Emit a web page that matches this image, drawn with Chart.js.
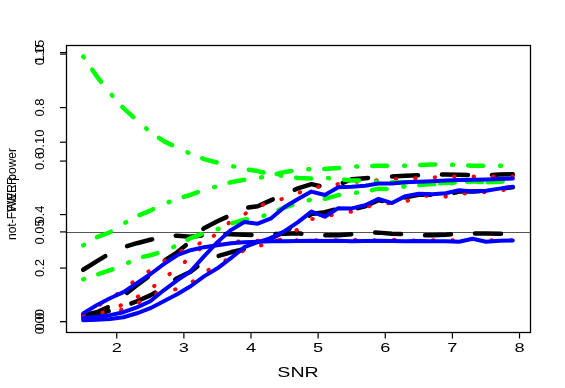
<!DOCTYPE html>
<html>
<head>
<meta charset="utf-8">
<script src="https://cdn.jsdelivr.net/npm/chart.js@4/dist/chart.umd.min.js"></script>
<style>
html,body{margin:0;padding:0;background:#fff;}
#wrap{width:565px;height:388px;position:relative;}
</style>
</head>
<body>
<div id="wrap"><canvas id="c" width="565" height="388"></canvas></div>
<script>
// ---- data ----
const snr = [1.5,1.7,1.9,2.1,2.3,2.5,2.7,2.9,3.1,3.3,3.5,3.7,3.9,4.1,4.3,4.5,4.7,4.9,5.1,5.3,5.5,5.7,5.9,6.1,6.3,6.5,6.7,6.9,7.1,7.3,7.5,7.7,7.9];

const fwerBlack = [0.0289,0.0336,0.0381,0.0415,0.0437,0.0456,0.0476,0.0479,0.0473,0.0482,0.0490,0.0487,0.0484,0.0482,0.0487,0.0490,0.0493,0.0482,0.0482,0.0482,0.0487,0.0498,0.0496,0.0490,0.0487,0.0482,0.0482,0.0484,0.0490,0.0491,0.0491,0.0490,0.0490];
const powerBlack1 = [0.024,0.035,0.057,0.097,0.136,0.173,0.226,0.259,0.300,0.349,0.375,0.398,0.424,0.431,0.454,0.476,0.498,0.514,0.502,0.512,0.532,0.536,0.540,0.542,0.545,0.547,0.549,0.550,0.549,0.548,0.547,0.550,0.551];
const powerBlack2 = [0.020,0.031,0.040,0.057,0.076,0.098,0.128,0.162,0.186,0.226,0.244,0.259,0.271,0.289,0.312,0.335,0.365,0.402,0.409,0.422,0.418,0.431,0.454,0.443,0.465,0.474,0.474,0.472,0.486,0.486,0.489,0.497,0.502];

const fwerRed = [0.0041,0.0085,0.0124,0.0180,0.0236,0.0286,0.0336,0.0381,0.0420,0.0443,0.0443,0.0448,0.0445,0.0451,0.0454,0.0451,0.0454,0.0454,0.0451,0.0454,0.0456,0.0454,0.0454,0.0456,0.0454,0.0451,0.0454,0.0454,0.0454,0.0459,0.0454,0.0454,0.0454];
const powerRed1 = [0.020,0.027,0.042,0.065,0.091,0.121,0.162,0.199,0.241,0.285,0.334,0.375,0.401,0.431,0.446,0.461,0.480,0.501,0.506,0.514,0.521,0.525,0.529,0.532,0.534,0.536,0.538,0.544,0.542,0.542,0.542,0.542,0.542];
const powerRed2 = [0.009,0.016,0.031,0.046,0.068,0.095,0.117,0.121,0.143,0.184,0.210,0.241,0.267,0.282,0.293,0.312,0.345,0.383,0.391,0.405,0.411,0.428,0.439,0.443,0.448,0.471,0.469,0.467,0.480,0.478,0.484,0.491,0.495];

const fwerGreen = [0.1478,0.1369,0.1274,0.1190,0.1123,0.1056,0.1006,0.0970,0.0936,0.0906,0.0886,0.0869,0.0850,0.0839,0.0822,0.0811,0.0800,0.0797,0.0802,0.0794,0.0786,0.0786,0.0780,0.0777,0.0777,0.0775,0.0769,0.0772,0.0777,0.0786,0.0777,0.0780,0.0783];
const powerGreen1 = [0.285,0.315,0.334,0.366,0.394,0.415,0.439,0.459,0.474,0.493,0.506,0.521,0.530,0.536,0.547,0.559,0.566,0.570,0.570,0.574,0.579,0.581,0.583,0.583,0.583,0.585,0.587,0.587,0.585,0.583,0.583,0.583,0.583];
const powerGreen2 = [0.158,0.175,0.192,0.211,0.237,0.248,0.263,0.285,0.312,0.330,0.345,0.366,0.381,0.388,0.405,0.426,0.444,0.456,0.459,0.473,0.480,0.486,0.497,0.495,0.506,0.510,0.514,0.516,0.519,0.525,0.521,0.523,0.525];

const fwerBlue = [0.0046,0.0091,0.0130,0.0164,0.0214,0.0264,0.0320,0.0370,0.0398,0.0415,0.0426,0.0437,0.0443,0.0445,0.0448,0.0448,0.0450,0.0451,0.0449,0.0451,0.0448,0.0450,0.0451,0.0449,0.0448,0.0450,0.0448,0.0448,0.0445,0.0462,0.0445,0.0451,0.0452];
const powerBlue1 = [0.012,0.018,0.024,0.035,0.053,0.076,0.117,0.154,0.188,0.244,0.297,0.342,0.372,0.366,0.386,0.428,0.458,0.486,0.473,0.502,0.504,0.508,0.516,0.516,0.521,0.523,0.525,0.527,0.529,0.530,0.531,0.533,0.535];
const powerBlue2 = [0.005,0.007,0.010,0.016,0.031,0.050,0.076,0.102,0.132,0.169,0.199,0.237,0.278,0.297,0.312,0.338,0.372,0.411,0.392,0.424,0.423,0.435,0.459,0.443,0.469,0.478,0.476,0.480,0.491,0.486,0.489,0.497,0.504];

const xTicks = [2,3,4,5,6,7,8];
const powerTicks = [0,0.2,0.4,0.6,0.8,1.0];
const powerTickLabels = ["0.0","0.2","0.4","0.6","0.8","1.0"];
const fwerTicks = [0,0.05,0.10,0.15];
const fwerTickLabels = ["0.00","0.05","0.10","0.15"];
const fwerRefLine = 0.05;
const xTitle = "SNR";
const yTitle = "not-FWER power";
const y2Title = "FWER";

// ---- styles ----
const BLACK = '#000000', RED = '#FF0000', GREEN = '#00FF00', BLUE = '#0000FF';
const dashBlack = [26, 24];
const dashGreen = [1, 15, 15, 17];
const dashRed = [0.5, 19];

function pts(arr){ return snr.map((x,i)=>({x:x, y:arr[i]})); }
function ds(label, arr, axis, color, width, dash, order){
  return {label, data: pts(arr), yAxisID: axis, borderColor: color, borderWidth: width,
    borderDash: dash, borderCapStyle: 'round', borderJoinStyle: 'round',
    pointRadius: 0, tension: 0, fill: false, order: order};
}

const datasets = [
  ds('fwerBlue', fwerBlue, 'y2', BLUE, 4, [], 0),
  ds('powerBlue1', powerBlue1, 'y', BLUE, 4, [], 0),
  ds('powerBlue2', powerBlue2, 'y', BLUE, 4, [], 0),
  ds('fwerGreen', fwerGreen, 'y2', GREEN, 4.5, dashGreen, 1),
  ds('powerGreen1', powerGreen1, 'y', GREEN, 4.5, dashGreen, 1),
  ds('powerGreen2', powerGreen2, 'y', GREEN, 4.5, dashGreen, 1),
  ds('fwerRed', fwerRed, 'y2', RED, 4, dashRed, 2),
  ds('powerRed1', powerRed1, 'y', RED, 4, dashRed, 2),
  ds('powerRed2', powerRed2, 'y', RED, 4, dashRed, 2),
  ds('fwerBlack', fwerBlack, 'y2', BLACK, 4.5, dashBlack, 3),
  ds('powerBlack1', powerBlack1, 'y', BLACK, 4.5, dashBlack, 3),
  ds('powerBlack2', powerBlack2, 'y', BLACK, 4.5, dashBlack, 3)
];

const FONT = '"Liberation Sans", Arial, Helvetica, sans-serif';

const decor = {
  id: 'rdecor',
  beforeDatasetsDraw(chart){
    const ctx = chart.ctx, a = chart.chartArea, y2 = chart.scales.y2;
    const yy = Math.round(y2.getPixelForValue(fwerRefLine)) + 0.5;
    ctx.save();
    ctx.strokeStyle = '#555555'; ctx.lineWidth = 1;
    ctx.beginPath(); ctx.moveTo(a.left, yy); ctx.lineTo(a.right, yy); ctx.stroke();
    ctx.restore();
  },
  afterDraw(chart){
    const ctx = chart.ctx, a = chart.chartArea;
    const xs = chart.scales.x, ys = chart.scales.y, y2 = chart.scales.y2;
    ctx.save();
    ctx.strokeStyle = '#000'; ctx.fillStyle = '#000';
    // box
    ctx.lineWidth = 1.3;
    ctx.strokeRect(a.left + 0.5, a.top + 0.5, a.right - a.left, a.bottom - a.top);
    // x ticks
    ctx.lineWidth = 1.2;
    xTicks.forEach(t => {
      const px = xs.getPixelForValue(t);
      ctx.beginPath(); ctx.moveTo(px, a.bottom); ctx.lineTo(px, a.bottom + 6.5); ctx.stroke();
      ctx.save();
      ctx.translate(px, a.bottom + 19.5);
      ctx.scale(1.4, 1);
      ctx.font = '13px ' + FONT; ctx.textAlign = 'center'; ctx.textBaseline = 'alphabetic';
      ctx.fillText(String(t), 0, 0);
      ctx.restore();
    });
    // x title
    ctx.save();
    ctx.translate((a.left + a.right) / 2, a.bottom + 45);
    ctx.scale(1.4, 1);
    ctx.font = '14px ' + FONT; ctx.textAlign = 'center'; ctx.textBaseline = 'alphabetic';
    ctx.fillText(xTitle, 0, 0);
    ctx.restore();
    // y ticks (both axes overlaid)
    function yAxis(scale, ticks, labels){
      ticks.forEach((t, i) => {
        const py = scale.getPixelForValue(t);
        ctx.beginPath(); ctx.moveTo(a.left, py); ctx.lineTo(a.left - 6, py); ctx.stroke();
        ctx.save();
        ctx.translate(a.left - 22, py);
        ctx.rotate(-Math.PI / 2);
        ctx.font = '13px ' + FONT; ctx.textAlign = 'center'; ctx.textBaseline = 'alphabetic';
        ctx.fillText(labels[i], 0, 0);
        ctx.restore();
      });
    }
    yAxis(ys, powerTicks, powerTickLabels);
    yAxis(y2, fwerTicks, fwerTickLabels);
    // y titles (overlaid)
    [yTitle, y2Title].forEach(tt => {
      ctx.save();
      ctx.translate(16, 194);
      ctx.rotate(-Math.PI / 2);
      ctx.font = '12px ' + FONT; ctx.textAlign = 'center'; ctx.textBaseline = 'alphabetic';
      ctx.fillText(tt, 0, 0);
      ctx.restore();
    });
    ctx.restore();
  }
};

new Chart(document.getElementById('c'), {
  type: 'line',
  data: { datasets },
  options: {
    responsive: false,
    devicePixelRatio: 1,
    animation: false,
    layout: { padding: { left: 66, right: 35, top: 45, bottom: 56 } },
    plugins: { legend: { display: false }, tooltip: { enabled: false } },
    scales: {
      x: { type: 'linear', min: 1.244, max: 8.156, display: false },
      y: { type: 'linear', min: -0.039, max: 1.034, display: false },
      y2: { type: 'linear', min: -0.0058, max: 0.1542, display: false }
    }
  },
  plugins: [decor]
});
</script>
</body>
</html>
